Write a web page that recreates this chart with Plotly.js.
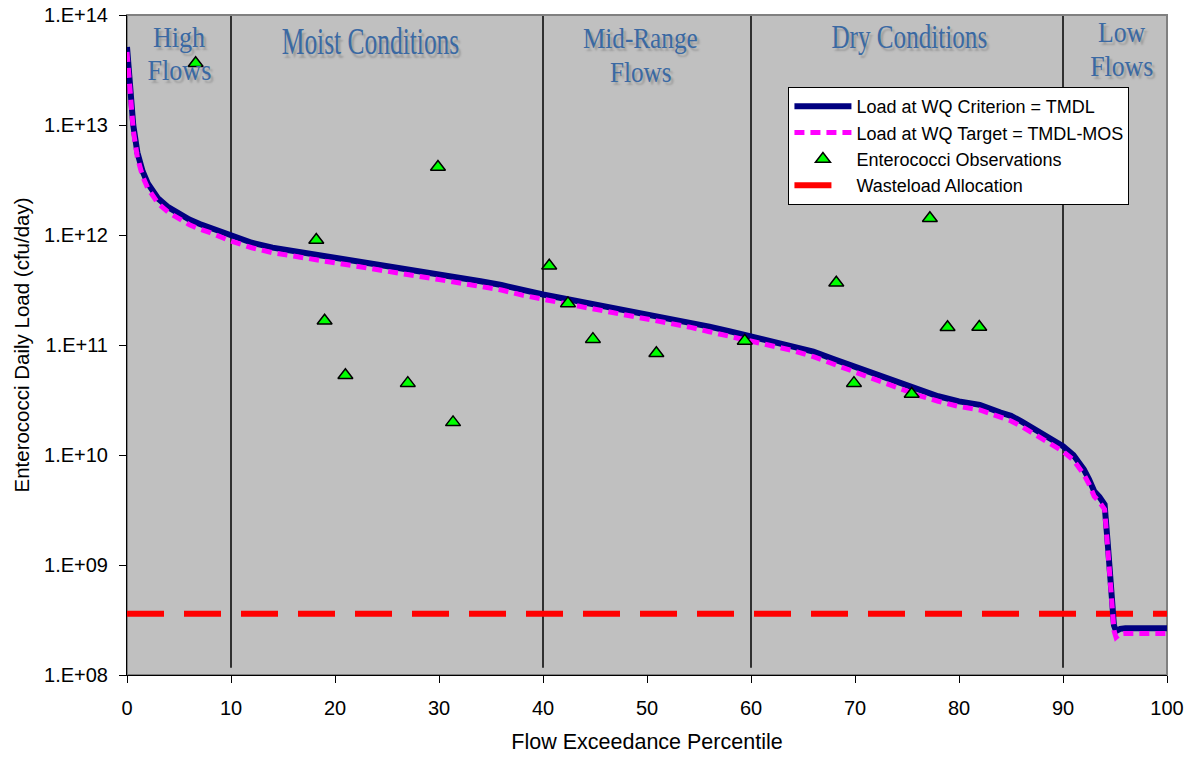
<!DOCTYPE html>
<html>
<head>
<meta charset="utf-8">
<script src="https://cdn.plot.ly/plotly-3.0.1.min.js"></script>
<style>
  html, body { margin: 0; padding: 0; background: #ffffff; }
  #chart { width: 1192px; height: 757px; }
  /* flow-zone captions: tall, narrow serif lettering with a soft grey drop shadow */
  g.annotation text.annotation-text {
    transform-box: fill-box;
    transform-origin: center;
    text-shadow: 3px 3px 2px #9c9c9c;
  }
  g.annotation[data-index="0"] text.annotation-text,
  g.annotation[data-index="1"] text.annotation-text { transform: scaleX(0.9); }
  g.annotation[data-index="2"] text.annotation-text { transform: scaleX(0.67); }
  g.annotation[data-index="3"] text.annotation-text,
  g.annotation[data-index="4"] text.annotation-text { transform: scaleX(0.84); }
  g.annotation[data-index="5"] text.annotation-text { transform: scaleX(0.74); }
  g.annotation[data-index="6"] text.annotation-text,
  g.annotation[data-index="7"] text.annotation-text { transform: scaleX(0.86); }
</style>
</head>
<body>
<div id="chart"></div>
<script>
// Load duration curve: flow exceedance percentile vs. daily enterococci load (cfu/day)
const flowPct = [0, 0.3, 0.6, 1, 1.5, 2, 2.5, 3, 4, 5, 6, 7, 8,
  10, 12, 14, 16, 18, 20, 22, 24, 26, 28, 30, 32, 34, 36, 38, 40, 42, 44, 46, 48,
  50, 52, 54, 56, 58, 60, 62, 64, 66, 68, 70, 72, 74, 76, 78, 80, 82, 84,
  85, 86, 88, 90, 91, 92, 92.5, 93, 93.5, 94, 94.3, 94.6, 94.9, 95.1, 95.5, 96, 98, 100];

// Load at WQ criterion (TMDL)
const tmdlLoad = [5.13e13, 2.24e13, 1.00e13, 5.62e12, 3.80e12, 2.95e12, 2.51e12, 2.14e12, 1.78e12, 1.55e12, 1.38e12, 1.26e12, 1.17e12,
  9.77e11, 8.51e11, 7.67e11, 7.16e11, 6.76e11, 6.31e11, 5.89e11, 5.50e11, 5.01e11, 4.68e11, 4.37e11, 4.07e11, 3.80e11, 3.51e11, 3.16e11, 2.88e11, 2.65e11, 2.44e11, 2.25e11, 2.09e11,
  1.91e11, 1.76e11, 1.62e11, 1.47e11, 1.33e11, 1.20e11, 1.10e11, 9.90e10, 8.70e10, 7.40e10, 6.30e10, 5.50e10, 4.65e10, 3.90e10, 3.42e10, 3.07e10, 2.86e10, 2.43e10,
  2.27e10, 2.02e10, 1.54e10, 1.20e10, 1.00e10, 7.41e9, 6.03e9, 4.68e9, 4.17e9, 3.55e9, 1.58e9, 6.31e8, 2.82e8, 2.51e8, 2.63e8, 2.66e8, 2.66e8, 2.66e8];

// Load at WQ target (TMDL minus margin of safety)
const mosLoad = [4.62e13, 2.02e13, 9.00e12, 5.06e12, 3.42e12, 2.66e12, 2.26e12, 1.93e12, 1.60e12, 1.40e12, 1.24e12, 1.13e12, 1.05e12,
  8.79e11, 7.66e11, 6.90e11, 6.44e11, 6.08e11, 5.68e11, 5.30e11, 4.95e11, 4.51e11, 4.21e11, 3.93e11, 3.66e11, 3.42e11, 3.16e11, 2.84e11, 2.59e11, 2.39e11, 2.20e11, 2.03e11, 1.88e11,
  1.72e11, 1.58e11, 1.46e11, 1.32e11, 1.20e11, 1.08e11, 9.90e10, 8.91e10, 7.83e10, 6.66e10, 5.67e10, 4.95e10, 4.19e10, 3.51e10, 3.08e10, 2.76e10, 2.57e10, 2.19e10,
  2.04e10, 1.82e10, 1.39e10, 1.08e10, 9.00e9, 6.67e9, 5.43e9, 4.21e9, 3.75e9, 3.20e9, 1.42e9, 5.68e8, 2.54e8, 2.20e8, 2.37e8, 2.39e8, 2.39e8, 2.39e8];

// Enterococci observations
const obsPct = [6.6, 18.2, 19.0, 21.0, 27.0, 29.9, 31.35, 40.6, 42.4, 44.8, 50.9, 59.4, 68.2, 69.9, 75.45, 77.2, 78.9, 81.95];
const obsLoad = [3.64e13, 9.0e11, 1.66e11, 5.3e10, 4.5e10, 4.15e12, 1.98e10, 5.26e11, 2.39e11, 1.13e11, 8.4e10, 1.09e11, 3.68e11, 4.5e10, 3.59e10, 1.42e12, 1.45e11, 1.46e11];

// Wasteload allocation (constant)
const wlaPct = [0, 100];
const wlaLoad = [3.6e8, 3.6e8];

// Flow zone boundaries and captions
const zoneBounds = [10, 40, 60, 90];
const zoneCaptions = ['High', 'Flows', 'Moist Conditions', 'Mid-Range', 'Flows', 'Dry Conditions', 'Low', 'Flows'];

// Axis ticks
const xTicks = [0, 10, 20, 30, 40, 50, 60, 70, 80, 90, 100];
const yTicks = [1e8, 1e9, 1e10, 1e11, 1e12, 1e13, 1e14];
const yTickText = ['1.E+08', '1.E+09', '1.E+10', '1.E+11', '1.E+12', '1.E+13', '1.E+14'];

const sansFont = 'Liberation Sans, Arial, sans-serif';
const serifFont = 'Liberation Serif, Times New Roman, serif';

const traces = [
  {
    x: wlaPct, y: wlaLoad, type: 'scatter', mode: 'lines',
    name: 'Wasteload Allocation', legendgroup: 'wla', legendrank: 4,
    line: { color: '#ff0000', width: 6, dash: '37px,20px' },
    hoverinfo: 'skip'
  },
  {
    x: flowPct, y: tmdlLoad, type: 'scatter', mode: 'lines',
    name: 'Load at WQ Criterion = TMDL', legendgroup: 'tmdl', legendrank: 1,
    line: { color: '#000080', width: 6 }
  },
  {
    x: flowPct, y: mosLoad, type: 'scatter', mode: 'lines',
    name: 'Load at WQ Target = TMDL-MOS', legendgroup: 'mos', legendrank: 2,
    line: { color: '#ff00ff', width: 5, dash: '10px,6px' }
  },
  {
    x: obsPct, y: obsLoad, type: 'scatter', mode: 'markers',
    name: 'Enterococci Observations', legendgroup: 'obs', legendrank: 3,
    marker: { symbol: 'triangle-up', size: 13, color: '#00ff00', line: { color: '#000000', width: 1.5 } }
  }
];

const shapes = zoneBounds.map(b => ({
  type: 'line', xref: 'x', yref: 'paper', x0: b, x1: b, y0: 0.011, y1: 1,
  line: { color: '#000000', width: 1.5 }, layer: 'below'
}));
shapes.push({
  type: 'rect', xref: 'paper', yref: 'paper', x0: 0, x1: 1, y0: 0, y1: 1,
  line: { color: '#808080', width: 2 }, layer: 'below'
});

const captionPos = [
  { x: 5.0, y: 0.966, size: 29 },
  { x: 5.0, y: 0.916, size: 29 },
  { x: 23.4, y: 0.961, size: 38 },
  { x: 49.4, y: 0.966, size: 30 },
  { x: 49.4, y: 0.914, size: 30 },
  { x: 75.2, y: 0.967, size: 34 },
  { x: 95.6, y: 0.975, size: 30 },
  { x: 95.6, y: 0.923, size: 30 }
];
const annotations = zoneCaptions.map((t, i) => ({
  text: t, xref: 'x', yref: 'paper', x: captionPos[i].x, y: captionPos[i].y,
  xanchor: 'center', yanchor: 'middle', showarrow: false,
  font: { family: serifFont, size: captionPos[i].size, color: '#3a69a3' }
}));

const layout = {
  width: 1192, height: 757,
  margin: { l: 127, r: 25, t: 15, b: 82 },
  paper_bgcolor: '#ffffff',
  plot_bgcolor: '#c0c0c0',
  font: { family: sansFont, color: '#000000', size: 20 },
  showlegend: true,
  legend: {
    x: 0.636, y: 0.891, xanchor: 'left', yanchor: 'top',
    bgcolor: '#ffffff', bordercolor: '#000000', borderwidth: 1,
    font: { family: sansFont, size: 18, color: '#000000' },
    itemwidth: 57, tracegroupgap: 6, traceorder: 'normal'
  },
  xaxis: {
    range: [0, 100], tickvals: xTicks, ticktext: xTicks.map(String),
    showgrid: false, zeroline: false,
    showline: true, linecolor: '#000000', linewidth: 1,
    ticks: 'outside', ticklen: 7, tickcolor: '#000000', tickwidth: 1,
    ticklabelstandoff: 8,
    tickfont: { family: sansFont, size: 20, color: '#000000' },
    title: { text: 'Flow Exceedance Percentile', font: { family: sansFont, size: 21.5, color: '#000000' }, standoff: 15 }
  },
  yaxis: {
    type: 'log', range: [8, 14], tickvals: yTicks, ticktext: yTickText,
    showgrid: false, zeroline: false,
    showline: true, linecolor: '#000000', linewidth: 1,
    ticks: 'outside', ticklen: 7, tickcolor: '#000000', tickwidth: 1,
    ticklabelstandoff: 7,
    tickfont: { family: sansFont, size: 20, color: '#000000' },
    title: { text: 'Enterococci Daily Load (cfu/day)', font: { family: sansFont, size: 20.5, color: '#000000' }, standoff: 8 }
  },
  shapes: shapes,
  annotations: annotations
};

Plotly.newPlot('chart', traces, layout, { displayModeBar: false, staticPlot: true });
</script>
</body>
</html>
